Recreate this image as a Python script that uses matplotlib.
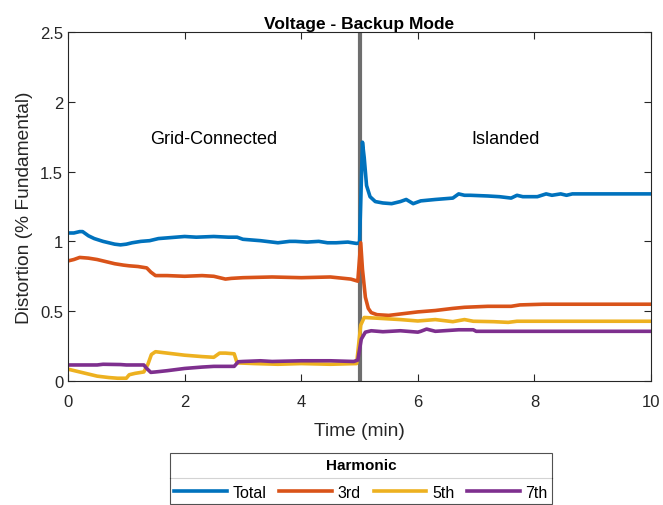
import matplotlib
matplotlib.use("Agg")
import matplotlib.pyplot as plt
from matplotlib.lines import Line2D

plt.rcParams['font.family'] = ['Liberation Sans', 'DejaVu Sans']

# time in minutes, distortion in % of fundamental
t_total = [0, 0.1, 0.2, 0.25, 0.35, 0.45, 0.6, 0.8, 0.9, 1.0, 1.1, 1.25, 1.4, 1.55, 1.7,
           1.85, 2.0, 2.2, 2.5, 2.75, 2.9, 3.0, 3.15, 3.3, 3.5, 3.6, 3.8, 3.9, 4.1, 4.3,
           4.45, 4.6, 4.8, 4.95, 5.0, 5.05, 5.08, 5.12, 5.18, 5.27, 5.4, 5.55, 5.7, 5.8,
           5.92, 6.05, 6.3, 6.6, 6.7, 6.8, 6.9, 7.2, 7.4, 7.6, 7.7, 7.8, 8.05, 8.2, 8.3,
           8.45, 8.55, 8.65, 10]
total = [1.06, 1.06, 1.07, 1.07, 1.04, 1.02, 1.0, 0.98, 0.975, 0.98, 0.99, 1.0, 1.005,
         1.02, 1.025, 1.03, 1.035, 1.03, 1.035, 1.03, 1.03, 1.015, 1.01, 1.005, 0.995,
         0.99, 1.0, 1.0, 0.995, 1.0, 0.99, 0.99, 0.995, 0.985, 0.99, 1.71, 1.60, 1.40,
         1.32, 1.285, 1.275, 1.27, 1.285, 1.30, 1.27, 1.29, 1.30, 1.31, 1.34, 1.33, 1.33,
         1.325, 1.32, 1.31, 1.33, 1.32, 1.32, 1.34, 1.33, 1.34, 1.33, 1.34, 1.34]

t_3rd = [0, 0.1, 0.2, 0.35, 0.5, 0.65, 0.8, 0.95, 1.05, 1.2, 1.35, 1.42, 1.5, 1.7, 2.0,
         2.3, 2.5, 2.6, 2.7, 2.8, 3.0, 3.5, 4.0, 4.5, 4.85, 4.97, 5.02, 5.05, 5.1, 5.15,
         5.2, 5.3, 5.5, 5.7, 6.0, 6.3, 6.6, 6.8, 7.2, 7.6, 7.75, 8.15, 8.6, 10]
h3 = [0.86, 0.87, 0.885, 0.88, 0.87, 0.855, 0.84, 0.83, 0.825, 0.82, 0.81, 0.78, 0.755,
      0.755, 0.75, 0.755, 0.75, 0.74, 0.73, 0.735, 0.74, 0.745, 0.74, 0.745, 0.73, 0.715,
      0.99, 0.80, 0.60, 0.52, 0.49, 0.475, 0.47, 0.48, 0.495, 0.505, 0.52, 0.528, 0.535,
      0.535, 0.545, 0.55, 0.55, 0.55]

t_5th = [0, 0.2, 0.35, 0.5, 0.7, 0.85, 1.0, 1.05, 1.15, 1.3, 1.37, 1.43, 1.5, 1.7, 2.0,
         2.3, 2.5, 2.6, 2.7, 2.85, 2.9, 3.2, 3.6, 4.0, 4.5, 4.95, 5.02, 5.08, 5.3, 5.7,
         6.0, 6.3, 6.6, 6.8, 6.95, 7.3, 7.55, 7.7, 10]
h5 = [0.085, 0.065, 0.05, 0.035, 0.025, 0.02, 0.02, 0.045, 0.055, 0.065, 0.12, 0.19,
      0.21, 0.20, 0.185, 0.175, 0.17, 0.2, 0.2, 0.195, 0.13, 0.125, 0.12, 0.125, 0.12,
      0.125, 0.40, 0.455, 0.45, 0.44, 0.43, 0.44, 0.425, 0.44, 0.428, 0.425, 0.42,
      0.428, 0.428]

t_7th = [0, 0.5, 0.6, 0.9, 1.0, 1.3, 1.35, 1.42, 1.5, 1.7, 2.0, 2.3, 2.5, 2.85, 2.92,
         3.0, 3.3, 3.5, 4.0, 4.5, 4.9, 4.97, 5.03, 5.1, 5.2, 5.4, 5.7, 6.0, 6.05, 6.15,
         6.3, 6.7, 6.95, 7.0, 10]
h7 = [0.115, 0.115, 0.12, 0.118, 0.115, 0.115, 0.09, 0.062, 0.065, 0.074, 0.09, 0.1,
      0.105, 0.105, 0.138, 0.14, 0.145, 0.14, 0.145, 0.145, 0.14, 0.15, 0.30, 0.35, 0.36,
      0.353, 0.36, 0.35, 0.356, 0.372, 0.356, 0.367, 0.367, 0.356, 0.356]

labels = ["Total", "3rd", "5th", "7th"]
colors = ["#0072BD", "#D95319", "#EDB120", "#7E2F8E"]
t_switch = 5

fig = plt.figure(figsize=(6.63, 5.06), dpi=100)
ax = fig.add_axes([0.1026, 0.245, 0.8794, 0.690])

ax.axvline(t_switch, color="#6e6e6e", lw=3, zorder=1)
handles = []
for tt, yy, lab, c in zip([t_total, t_3rd, t_5th, t_7th], [total, h3, h5, h7], labels, colors):
    h, = ax.plot(tt, yy, color=c, lw=2.6, label=lab, zorder=2)
    handles.append(h)

ax.set_xlim(0, 10)
ax.set_ylim(0, 2.5)
ax.set_xticks([0, 2, 4, 6, 8, 10])
ax.set_yticks([0, 0.5, 1, 1.5, 2, 2.5])
ax.set_yticklabels(["0", "0.5", "1", "1.5", "2", "2.5"])
ax.tick_params(direction="in", top=True, right=True, labelsize=12, colors="#262626",
               length=5, width=0.8)
ax.tick_params(axis="x", pad=9.5)
for s in ax.spines.values():
    s.set_color("#262626")
    s.set_linewidth(0.8)

ax.set_title("Voltage - Backup Mode", fontsize=12.5, fontweight="bold", pad=3)
ax.set_xlabel("Time (min)", fontsize=13.8, color="#262626", labelpad=9)
ax.set_ylabel("Distortion (% Fundamental)", fontsize=13.8, color="#262626", labelpad=5)

ax.text(2.5, 1.74, "Grid-Connected", ha="center", va="center", fontsize=13)
ax.text(7.5, 1.74, "Islanded", ha="center", va="center", fontsize=13)

leg = fig.legend(handles, labels, ncol=4, loc="upper center",
                 bbox_to_anchor=(0.5445, 0.1028), title="Harmonic",
                 title_fontproperties={"weight": "bold", "size": 11},
                 fontsize=11.5, frameon=True, fancybox=False, edgecolor="#262626",
                 handlelength=3.3, handletextpad=0.35, columnspacing=0.8,
                 borderpad=0.3, labelspacing=0.8, borderaxespad=0)
leg.get_frame().set_linewidth(0.8)

# separator line between the legend title and its entries
fig.canvas.draw()
fb = leg.get_frame().get_window_extent()
tb = leg.get_title().get_window_extent()
eb = leg.get_texts()[0].get_window_extent()
ysep = round((tb.y0 + eb.y1) / 2) + 0.5
fig.add_artist(Line2D([fb.x0 / fig.bbox.width, fb.x1 / fig.bbox.width],
                      [ysep / fig.bbox.height, ysep / fig.bbox.height],
                      transform=fig.transFigure, color="#262626", lw=0.8))

fig.savefig("out.png", dpi=100)
